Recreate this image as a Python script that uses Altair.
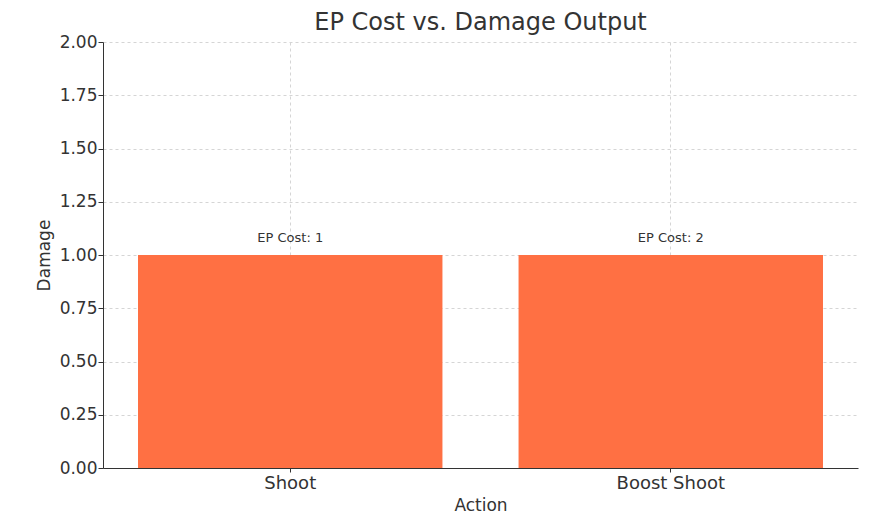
import altair as alt
import pandas as pd

actions = ["Shoot", "Boost Shoot"]
damage = [1, 1]
ep_cost = [1, 2]
y_ticks = [0, 0.25, 0.5, 0.75, 1.0, 1.25, 1.5, 1.75, 2.0]

df = pd.DataFrame({
    "Action": actions,
    "Damage": damage,
    "label": [f"EP Cost: {c}" for c in ep_cost],
})

FONT = "DejaVu Sans"

x_enc = alt.X(
    "Action:N",
    sort=actions,
    scale=alt.Scale(paddingInner=0.2, paddingOuter=0.092),
    axis=alt.Axis(
        title="Action",
        labelAngle=0,
        labelFontSize=18,
        labelColor="#333333",
        labelPadding=2,
        titleFontSize=17,
        titleFontWeight="normal",
        titleColor="#333333",
        titlePadding=5,
        grid=True,
        gridDash=[3, 3],
        gridColor="#d5d5d5",
        bandPosition=0.5,
        domainColor="#333333",
        tickColor="#333333",
        tickSize=4,
        labelFont=FONT,
        titleFont=FONT,
    ),
)

y_enc = alt.Y(
    "Damage:Q",
    scale=alt.Scale(domain=[0, 2], nice=False),
    axis=alt.Axis(
        title="Damage",
        values=y_ticks,
        format=".2f",
        labelFontSize=17,
        labelColor="#333333",
        labelPadding=1,
        titleFontSize=17,
        titleFontWeight="normal",
        titleColor="#333333",
        titlePadding=6,
        grid=True,
        gridDash=[3, 3],
        gridColor="#d5d5d5",
        domainColor="#333333",
        tickColor="#333333",
        tickSize=5,
        labelFont=FONT,
        titleFont=FONT,
    ),
)

bars = alt.Chart(df).mark_bar(color="#FF7043").encode(x=x_enc, y=y_enc)

labels = alt.Chart(df).mark_text(
    baseline="bottom", dy=-10, fontSize=13, color="#333333", font=FONT
).encode(x=alt.X("Action:N", sort=actions), y="Damage:Q", text="label:N")

chart = (
    alt.layer(bars, labels)
    .properties(
        width=755,
        height=426,
        title=alt.TitleParams(
            "EP Cost vs. Damage Output",
            fontSize=24,
            fontWeight="normal",
            color="#333333",
            font=FONT,
            anchor="middle",
            offset=-2,
        ),
        autosize=alt.AutoSizeParams(type="none"),
        padding={"left": 95, "top": 34, "right": 12, "bottom": 49},
    )
    .configure(background="white")
    .configure_view(stroke=None)
)

chart.save("out.html", embed_options={"renderer": "svg", "actions": False})
